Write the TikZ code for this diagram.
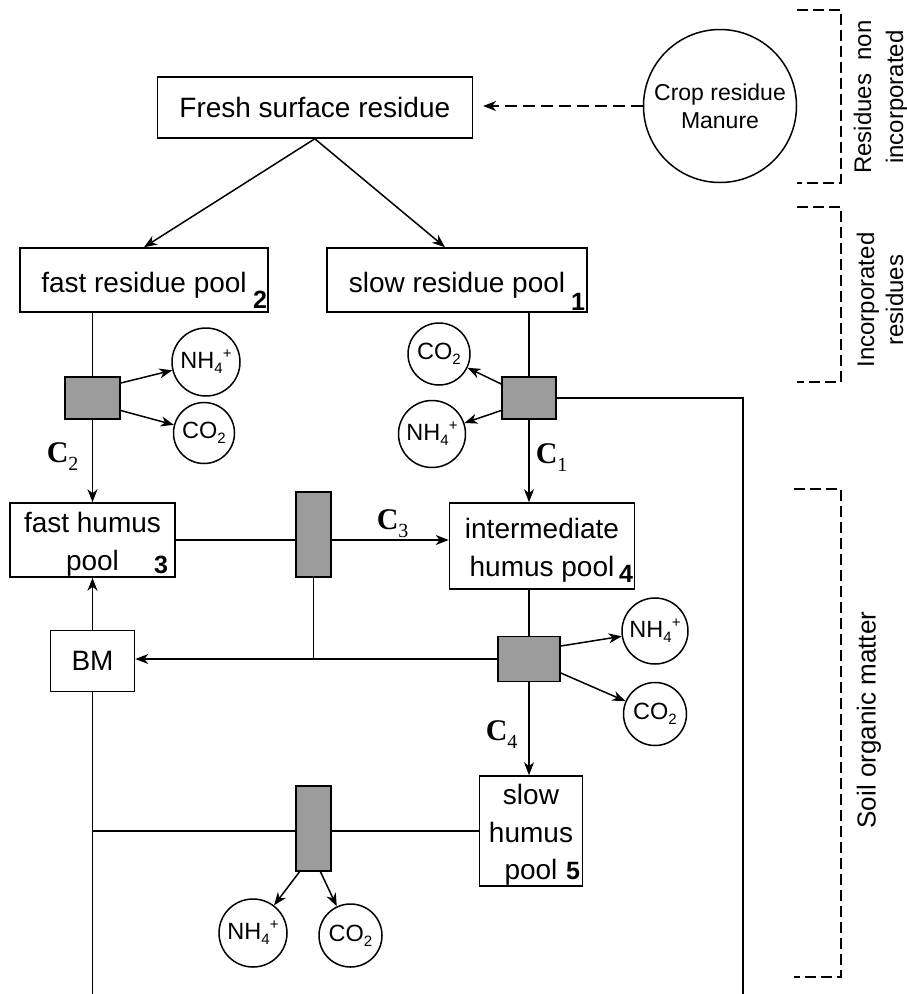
\documentclass[tikz,border=0pt]{standalone}
\usepackage{fontspec}
\setmainfont{Liberation Sans}
\newfontfamily\serifC{Liberation Serif}
\usetikzlibrary{arrows.meta}
\definecolor{boxgray}{RGB}{155,155,155}
\newcommand{\myfs}[2]{\fontsize{#1}{#2}\selectfont}
\newcommand{\sbs}[1]{\raisebox{-5pt}{\myfs{15}{15}#1}}
\newcommand{\sps}[1]{\raisebox{10pt}{\myfs{15}{15}#1}}
\newcommand{\csub}[1]{\raisebox{-8pt}{\myfs{20}{20}\mdseries #1}}
\newcommand{\tstrut}[1]{\rule{0pt}{#1}}
\begin{document}
\begin{tikzpicture}[x=1pt,y=-1pt,
  line width=1.5pt,
  box/.style={draw, line width=1.6pt, fill=white, inner sep=0pt, align=center, font=\myfs{28}{37.5}},
  gbox/.style={draw, line width=1.6pt, fill=boxgray, inner sep=0pt},
  circ/.style={draw, circle, line width=1.5pt, inner sep=0pt, font=\myfs{23.5}{25}},
  num/.style={inner sep=0pt, font=\bfseries\myfs{25}{25}},
  clab/.style={inner sep=0pt, anchor=base west, font=\serifC\bfseries\myfs{30}{30}},
  arr/.style={-{Stealth[length=13pt,width=10pt,inset=4pt]}},
  brk/.style={dash pattern=on 11pt off 5pt, line width=1.5pt},
  side/.style={rotate=90, align=center, inner sep=0pt}
]
\fill[white] (0,0) rectangle (907,994);
\useasboundingbox (0,0) rectangle (907,994);

% boxes
\node[box, minimum width=315pt, minimum height=61pt] (fresh) at (314.8,107.5) {Fresh surface residue};
\node[box, minimum width=248pt, minimum height=64pt] (fastres) at (144,280) {\tstrut{30pt}fast residue pool};
\node[box, minimum width=260pt, minimum height=64pt] (slowres) at (457,280) {\tstrut{30pt}slow residue pool};
\node[box, minimum width=165pt, minimum height=74pt] (fasthum) at (92.5,540) {\tstrut{28.4pt}fast humus\\pool};
\node[box, minimum width=185pt, minimum height=86pt] (inthum) at (542,546) {\tstrut{28.4pt}intermediate\\humus pool};
\node[box, minimum width=84pt, minimum height=61pt] (bm) at (92.5,661) {BM};
\node[box, minimum width=103pt, minimum height=110pt] (slowhum) at (531,831) {\tstrut{28.4pt}slow\\humus\\pool};

% numbers
\node[num, anchor=south east, xshift=-1pt, yshift=4pt] (n2) at (fastres.south east) {2};
\node[num, anchor=south east, xshift=-2pt, yshift=2pt] (n1) at (slowres.south east) {1};
\node[num, anchor=south east, xshift=-7pt, yshift=3pt] (n3) at (fasthum.south east) {3};
\node[num, anchor=south east, xshift=-1.5pt, yshift=7pt] (n4) at (inthum.south east) {4};
\node[num, anchor=south east, xshift=-2.5pt, yshift=6pt] (n5) at (slowhum.south east) {5};

% gray boxes
\node[gbox, minimum width=55pt, minimum height=42pt] (g1) at (92.5,398) {};
\node[gbox, minimum width=54pt, minimum height=42pt] (g2) at (529,398) {};
\node[gbox, minimum width=35pt, minimum height=85pt] (g3) at (313.5,534.5) {};
\node[gbox, minimum width=62pt, minimum height=45pt] (g4) at (529,659) {};
\node[gbox, minimum width=35pt, minimum height=85pt] (g5) at (313.5,828.5) {};

% circles
\node[circ, minimum size=153pt, font=\myfs{23}{28}, align=center] (crop) at (720,106) {Crop residue\\Manure};
\node[circ, minimum size=68pt] (nh4a) at (206,362) {NH\sbs{4}\sps{+}};
\node[circ, minimum size=61pt] (co2a) at (204,433) {CO\sbs{2}};
\node[circ, minimum size=62pt] (co2b) at (439,354) {CO\sbs{2}};
\node[circ, minimum size=67pt] (nh4b) at (432,434) {NH\sbs{4}\sps{+}};
\node[circ, minimum size=66pt] (nh4c) at (655,631) {NH\sbs{4}\sps{+}};
\node[circ, minimum size=63pt] (co2c) at (655,714) {CO\sbs{2}};
\node[circ, minimum size=68pt] (nh4d) at (253,933) {NH\sbs{4}\sps{+}};
\node[circ, minimum size=63pt] (co2d) at (350.5,935.5) {CO\sbs{2}};

% C labels
\node[clab] (c2) at (46,462) {C\csub{2}};
\node[clab] (c1) at (535,463) {C\csub{1}};
\node[clab] (c3) at (376,529) {C\csub{3}};
\node[clab] (c4) at (485,740) {C\csub{4}};

% side labels
\node[side, font=\myfs{24}{32}] (rn) at (881,97) {Residues\ \ non\\incorporated};
\node[side, font=\myfs{24}{29}] (ir) at (880,300) {Incorporated\\residues};
\node[side, font=\myfs{26}{30}] (som) at (869,720) {Soil organic matter};

% coordinates
\coordinate (rc) at (743,398);
\coordinate (rb) at (743,994);
\coordinate (bmb) at (92.5,994);

% connectors
\draw[arr, dash pattern=on 12pt off 6pt, shorten >=10pt] (crop.west) -- (crop.west -| fresh.east);
\draw[arr] (fresh.south) -- (fastres.north);
\draw[arr] (fresh.south) -- ([xshift=-12pt]slowres.north);

\draw (g1.north) -- (g1.north |- fastres.south);
\draw[arr] (g1.south) -- (fasthum.north);
\draw[arr] ([yshift=15pt]g1.east) -- (nh4a);
\draw[arr] ([yshift=-12.5pt]g1.east) -- (co2a);

\draw (g2.north) -- (g2.north |- slowres.south);
\draw[arr] (g2.south) -- (g2.south |- inthum.north);
\draw[arr] ([yshift=14pt]g2.west) -- (co2b);
\draw[arr] ([yshift=-12.5pt]g2.west) -- (nh4b);
\draw (g2.east) -- (rc) -- (rb);

\draw (fasthum.east) -- (fasthum.east -| g3.west);
\draw[arr] (fasthum.east -| g3.east) -- (fasthum.east -| inthum.west);
\draw (g3.south) -- (g3.south |- g4.west);

\draw (inthum.south -| g4.north) -- (g4.north);
\draw[arr] (g4.west) -- (g4.west -| bm.east);
\draw[arr] (bm.north) -- (fasthum.south);
\draw[arr] ([yshift=13pt]g4.east) -- (nh4c);
\draw[arr] ([yshift=-14pt]g4.east) -- (co2c);
\draw[arr] (g4.south) -- (g4.south |- slowhum.north);

\draw (slowhum.west) -- (slowhum.west -| g5.east);
\draw (slowhum.west -| g5.west) -- (slowhum.west -| bm.south);
\draw (bm.south) -- (bmb);
\draw[arr] ([xshift=-14pt]g5.south) -- (nh4d);
\draw[arr] ([xshift=7pt]g5.south) -- (co2d);

% brackets
\draw[brk] (797,10) -- (841,10) -- (841,183) -- (797,183);
\draw[brk] (797,207) -- (841,207) -- (841,382) -- (797,382);
\draw[brk] (794,489) -- (841,489) -- (841,977) -- (794,977);
\end{tikzpicture}
\end{document}
